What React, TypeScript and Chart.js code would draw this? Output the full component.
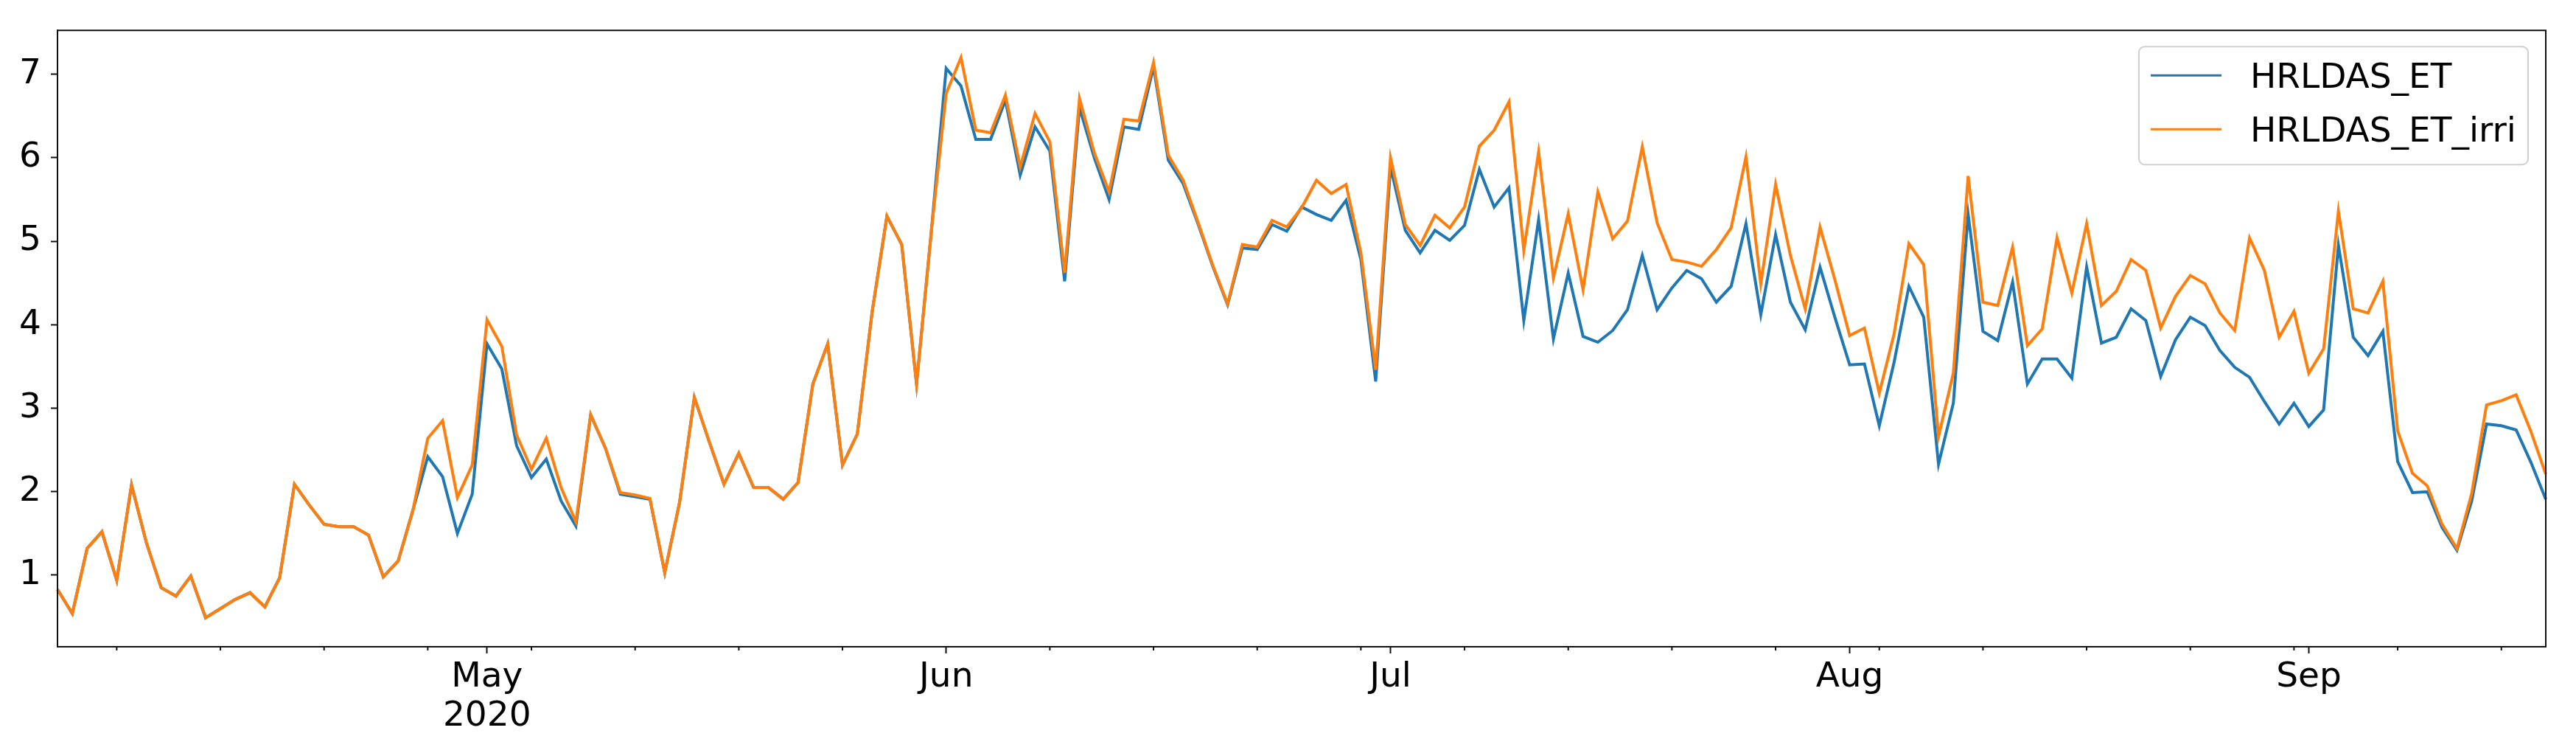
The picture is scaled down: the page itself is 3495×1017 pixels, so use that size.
import React, { useEffect, useRef } from 'react';
import { Chart, registerables } from 'chart.js';

Chart.register(...registerables);

// ---------- data ----------
const START_YEAR = 2020;
const START_MONTH = 3; // April (0-based)
const START_DAY = 2;
const NUM_DAYS = 169;

const dates: string[] = Array.from({ length: NUM_DAYS }, (_, i) =>
  new Date(Date.UTC(START_YEAR, START_MONTH, START_DAY + i)).toISOString().slice(0, 10)
);

const seriesLabels = ['HRLDAS_ET', 'HRLDAS_ET_irri'];
const seriesColors = ['#1f77b4', '#ff7f0e'];

const hrldasET = [
  0.83, 0.54, 1.32, 1.52, 0.94, 2.08, 1.39, 0.85, 0.75, 0.99,
  0.49, 0.60, 0.71, 0.79, 0.62, 0.97, 2.09, 1.84, 1.61, 1.58,
  1.58, 1.48, 0.98, 1.17, 1.78, 2.42, 2.18, 1.50, 1.97, 3.77,
  3.47, 2.55, 2.17, 2.39, 1.89, 1.59, 2.92, 2.52, 1.97, 1.94,
  1.91, 1.03, 1.87, 3.13, 2.60, 2.09, 2.46, 2.05, 2.05, 1.91,
  2.11, 3.29, 3.77, 2.32, 2.69, 4.15, 5.30, 4.96, 3.29, 5.12,
  7.07, 6.86, 6.22, 6.22, 6.69, 5.79, 6.37, 6.08, 4.52, 6.60,
  6.00, 5.50, 6.37, 6.34, 7.09, 5.97, 5.69, 5.21, 4.70, 4.24,
  4.92, 4.90, 5.20, 5.12, 5.41, 5.32, 5.25, 5.49, 4.78, 3.32,
  5.89, 5.13, 4.86, 5.13, 5.01, 5.19, 5.86, 5.41, 5.64, 4.05,
  5.26, 3.83, 4.62, 3.86, 3.79, 3.93, 4.18, 4.83, 4.18, 4.44,
  4.65, 4.55, 4.27, 4.46, 5.21, 4.12, 5.08, 4.27, 3.94, 4.69,
  4.09, 3.52, 3.53, 2.79, 3.55, 4.46, 4.09, 2.33, 3.06, 5.32,
  3.92, 3.81, 4.51, 3.29, 3.59, 3.59, 3.36, 4.69, 3.78, 3.85,
  4.19, 4.05, 3.38, 3.82, 4.09, 3.99, 3.69, 3.49, 3.37, 3.08,
  2.81, 3.06, 2.78, 2.98, 4.95, 3.85, 3.63, 3.92, 2.36, 1.99,
  2.00, 1.57, 1.30, 1.89, 2.81, 2.79, 2.74, 2.35, 1.91,
];

const hrldasETIrri = [
  0.83, 0.54, 1.32, 1.52, 0.94, 2.08, 1.39, 0.85, 0.75, 0.99,
  0.49, 0.60, 0.71, 0.79, 0.62, 0.97, 2.09, 1.84, 1.61, 1.58,
  1.58, 1.48, 0.98, 1.17, 1.78, 2.64, 2.85, 1.93, 2.32, 4.06,
  3.74, 2.68, 2.27, 2.64, 2.05, 1.64, 2.92, 2.52, 1.99, 1.96,
  1.92, 1.03, 1.87, 3.13, 2.60, 2.09, 2.46, 2.05, 2.05, 1.91,
  2.11, 3.29, 3.77, 2.32, 2.69, 4.15, 5.30, 4.96, 3.29, 5.12,
  6.77, 7.20, 6.33, 6.30, 6.75, 5.89, 6.53, 6.19, 4.62, 6.71,
  6.06, 5.59, 6.46, 6.44, 7.14, 6.03, 5.73, 5.23, 4.71, 4.25,
  4.96, 4.93, 5.25, 5.17, 5.40, 5.73, 5.57, 5.68, 4.86, 3.46,
  6.00, 5.20, 4.95, 5.31, 5.16, 5.41, 6.14, 6.33, 6.67, 4.89,
  6.07, 4.56, 5.33, 4.42, 5.59, 5.03, 5.24, 6.13, 5.22, 4.78,
  4.75, 4.70, 4.90, 5.16, 6.01, 4.49, 5.68, 4.83, 4.19, 5.17,
  4.54, 3.87, 3.96, 3.18, 3.89, 4.97, 4.72, 2.66, 3.42, 5.78,
  4.27, 4.23, 4.93, 3.75, 3.95, 5.04, 4.38, 5.21, 4.23, 4.40,
  4.78, 4.65, 3.96, 4.34, 4.59, 4.49, 4.14, 3.93, 5.04, 4.65,
  3.85, 4.16, 3.42, 3.71, 5.36, 4.19, 4.14, 4.52, 2.73, 2.22,
  2.07, 1.61, 1.32, 1.98, 3.04, 3.09, 3.16, 2.72, 2.21,
];

const monthTickDates = ['2020-05-01', '2020-06-01', '2020-07-01', '2020-08-01', '2020-09-01'];
const monthTickLabels: (string | string[])[] = [['May', '2020'], 'Jun', 'Jul', 'Aug', 'Sep'];
const yTickValues = [1, 2, 3, 4, 5, 6, 7];
const Y_MIN = 0.143;
const Y_MAX = 7.525;

// ---------- layout ----------
const W = 3495;
const H = 1017;
const FONT = 'DejaVu Sans';
const FONT_SIZE = 47;

const majorIdx = monthTickDates.map((d) => dates.indexOf(d));
const minorIdx = dates
  .map((d, i) => ({ d, i }))
  .filter(({ d, i }) => new Date(d + 'T00:00:00Z').getUTCDay() === 1 && !majorIdx.includes(i))
  .map(({ i }) => i);

const framePlugin = {
  id: 'mplFrame',
  afterDatasetsDraw(chart: any) {
    const { ctx, chartArea } = chart;
    const xs = chart.scales.x;
    ctx.save();
    ctx.strokeStyle = '#111';
    ctx.lineWidth = 2;
    ctx.strokeRect(chartArea.left, chartArea.top, chartArea.right - chartArea.left, chartArea.bottom - chartArea.top);
    // minor ticks
    ctx.beginPath();
    minorIdx.forEach((i) => {
      const x = xs.getPixelForValue(i);
      ctx.moveTo(x, chartArea.bottom);
      ctx.lineTo(x, chartArea.bottom + 5);
    });
    ctx.stroke();
    ctx.restore();
  },
};

const legendPlugin = {
  id: 'mplLegend',
  afterDraw(chart: any) {
    const { ctx, chartArea } = chart;
    const bw = 528;
    const bh = 160;
    const x0 = chartArea.right - 552;
    const y0 = chartArea.top + 22;
    ctx.save();
    ctx.beginPath();
    ctx.roundRect(x0, y0, bw, bh, 8);
    ctx.fillStyle = 'rgba(255,255,255,0.8)';
    ctx.fill();
    ctx.strokeStyle = '#d0d0d0';
    ctx.lineWidth = 2;
    ctx.stroke();
    chart.data.datasets.forEach((ds: any, i: number) => {
      const ly = y0 + 39 + 73 * i;
      ctx.beginPath();
      ctx.strokeStyle = ds.borderColor;
      ctx.lineWidth = 3;
      ctx.moveTo(x0 + 16, ly);
      ctx.lineTo(x0 + 112, ly);
      ctx.stroke();
      ctx.fillStyle = '#000';
      ctx.font = `${FONT_SIZE}px '${FONT}'`;
      ctx.textAlign = 'left';
      ctx.textBaseline = 'alphabetic';
      ctx.fillText(ds.label, x0 + 151, ly + 17);
    });
    ctx.restore();
  },
};

export default function App() {
  const canvasRef = useRef<HTMLCanvasElement | null>(null);

  useEffect(() => {
    if (!canvasRef.current) return;
    const chart = new Chart(canvasRef.current, {
      type: 'line',
      data: {
        labels: dates,
        datasets: [
          {
            label: seriesLabels[0],
            data: hrldasET,
            borderColor: seriesColors[0],
            backgroundColor: seriesColors[0],
            borderWidth: 4,
            pointRadius: 0,
            tension: 0,
            order: 1,
          },
          {
            label: seriesLabels[1],
            data: hrldasETIrri,
            borderColor: seriesColors[1],
            backgroundColor: seriesColors[1],
            borderWidth: 4,
            pointRadius: 0,
            tension: 0,
            order: 0,
          },
        ],
      },
      options: {
        animation: false,
        responsive: false,
        devicePixelRatio: 1,
        layout: { padding: { left: 0, top: 38, right: 41, bottom: 0 } },
        plugins: {
          legend: { display: false },
          tooltip: { enabled: false },
        },
        scales: {
          x: {
            type: 'category',
            offset: false,
            afterBuildTicks: (scale: any) => {
              scale.ticks = majorIdx.map((i) => ({ value: i }));
            },
            afterFit: (scale: any) => {
              scale.height = 140;
            },
            ticks: {
              autoSkip: false,
              maxRotation: 0,
              minRotation: 0,
              padding: 6,
              color: '#000',
              font: { family: FONT, size: FONT_SIZE, lineHeight: 1.13 },
              callback: (value: any) => {
                const k = majorIdx.indexOf(Number(value));
                return k >= 0 ? monthTickLabels[k] : '';
              },
            },
            grid: {
              display: true,
              drawOnChartArea: false,
              drawTicks: true,
              tickLength: 9,
              tickWidth: 2,
              tickColor: '#111',
            },
            border: { display: true, color: '#111', width: 2 },
          },
          y: {
            type: 'linear',
            min: Y_MIN,
            max: Y_MAX,
            afterBuildTicks: (scale: any) => {
              scale.ticks = yTickValues.map((v) => ({ value: v }));
            },
            afterFit: (scale: any) => {
              scale.width = 78;
            },
            ticks: {
              padding: 13,
              color: '#000',
              font: { family: FONT, size: FONT_SIZE },
              callback: (value: any) => String(value),
            },
            grid: {
              display: true,
              drawOnChartArea: false,
              drawTicks: true,
              tickLength: 9,
              tickWidth: 2,
              tickColor: '#111',
            },
            border: { display: true, color: '#111', width: 2 },
          },
        },
      },
      plugins: [framePlugin, legendPlugin],
    } as any);
    return () => chart.destroy();
  }, []);

  return (
    <div style={{ position: 'absolute', left: 0, top: 0, width: W, height: H, background: '#fff' }}>
      <canvas ref={canvasRef} width={W} height={H} style={{ display: 'block', width: W, height: H }} />
    </div>
  );
}
